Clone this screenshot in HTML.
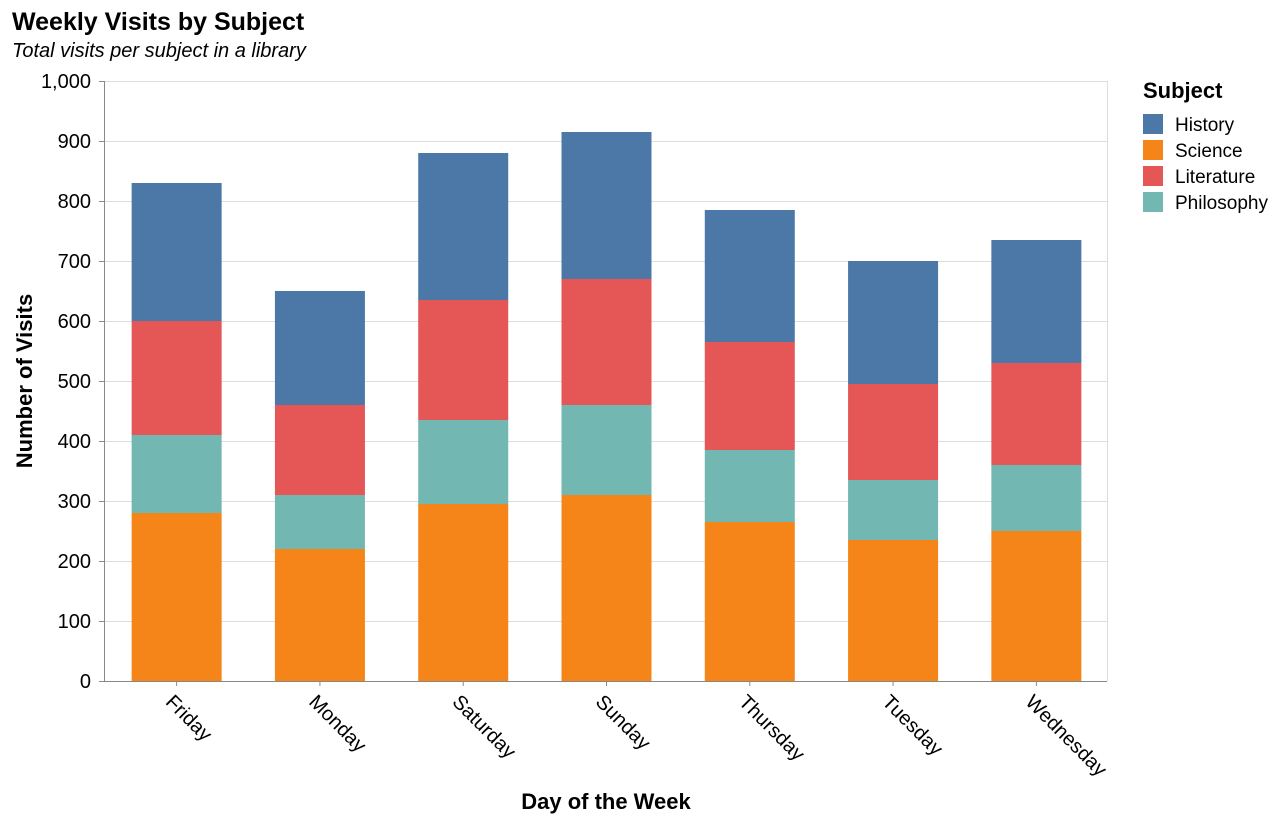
<!DOCTYPE html>
<html><head><meta charset="utf-8"><style>
body{margin:0;background:#fff;font-family:"Liberation Sans",Arial,sans-serif;}
svg text{font-family:"Liberation Sans",Arial,sans-serif;}
</style></head><body>
<svg id="chart" width="1282" height="824" xmlns="http://www.w3.org/2000/svg">
<text x="12" y="30" font-size="25" font-weight="bold" fill="#000">Weekly Visits by Subject</text>
<text x="12" y="57" font-size="20" font-style="italic" fill="#000">Total visits per subject in a library</text>
<g id="grid"></g>
<g id="bars"></g>
<g id="axes"></g>
<text x="606" y="809" font-size="22" font-weight="bold" text-anchor="middle">Day of the Week</text>
<text transform="translate(32,381) rotate(-90)" font-size="22" font-weight="bold" text-anchor="middle">Number of Visits</text>
<g id="legend"></g>
</svg>
<script>
const days = ["Friday","Monday","Saturday","Sunday","Thursday","Tuesday","Wednesday"];
const subjects = ["Science","Philosophy","Literature","History"];
const science = [280,220,295,310,265,235,250];
const philosophy = [130,90,140,150,120,100,110];
const literature = [190,150,200,210,180,160,170];
const history = [230,190,245,245,220,205,205];
const yTicks = [0,100,200,300,400,500,600,700,800,900,1000];
const legendOrder = ["History","Science","Literature","Philosophy"];

const colors = {History:"#4c78a8",Science:"#f58518",Literature:"#e45756",Philosophy:"#72b7b2"};
const series = {Science:science,Philosophy:philosophy,Literature:literature,History:history};
const X0=104,X1=1107,Y0=681,Y1=81;
const NS="http://www.w3.org/2000/svg";
function y(v){return Y0-(v/1000)*(Y0-Y1);}
const step=(X1-X0)/days.length;
function xc(i){return X0+step*(i+0.5);}
const bw=90;
function mk(tag,attrs,parent){const e=document.createElementNS(NS,tag);for(const k in attrs)e.setAttribute(k,attrs[k]);parent.appendChild(e);return e;}
const grid=document.getElementById('grid'),bars=document.getElementById('bars'),axes=document.getElementById('axes'),legend=document.getElementById('legend');
yTicks.forEach(t=>{
  const l=mk('line',{x1:X0,x2:X1,y1:y(t)+0.5,y2:y(t)+0.5,stroke:'#ddd'},grid);
  
  
  const tk=mk('line',{x1:X0-5,x2:X0,y1:y(t)+0.5,y2:y(t)+0.5,stroke:'#888'},axes);
  
  
  const tx=mk('text',{x:X0-13,y:y(t)+7,'font-size':20,'text-anchor':'end',fill:'#000'},axes);
  tx.textContent=t.toLocaleString('en-US');
  
  
});
mk('line',{x1:X1+0.5,x2:X1+0.5,y1:Y1,y2:Y0,stroke:'#ddd'},grid);
days.forEach((d,i)=>{
  let acc=0;
  subjects.forEach(s=>{
    const v=series[s][i];
    const r=mk('rect',{x:xc(i)-bw/2+1,y:y(acc+v),width:bw,height:y(acc)-y(acc+v),fill:colors[s]},bars);
    
    
    acc+=v;
  });
  const tk=mk('line',{x1:xc(i)+1,x2:xc(i)+1,y1:Y0,y2:Y0+5,stroke:'#888'},axes);
  
  
  const tx=mk('text',{transform:`translate(${xc(i)-11},${Y0+22}) rotate(45)`,'font-size':20,fill:'#000'},axes);
  tx.textContent=d;
  
  
});
mk('line',{x1:X0+0.5,x2:X0+0.5,y1:Y1,y2:Y0,stroke:'#888'},axes);
mk('line',{x1:X0,x2:X1,y1:Y0+0.5,y2:Y0+0.5,stroke:'#888'},axes);
const lt=mk('text',{x:1143,y:98,'font-size':22,'font-weight':'bold'},legend);
lt.textContent='Subject';


legendOrder.forEach((s,i)=>{
  const g=mk('g',{},legend);
  
  
  mk('rect',{x:1143,y:114+i*26,width:20,height:20,fill:colors[s]},g);
  const t=mk('text',{x:1175,y:131+i*26,'font-size':19},g);
  t.textContent=s;
});
</script>
</body></html>
